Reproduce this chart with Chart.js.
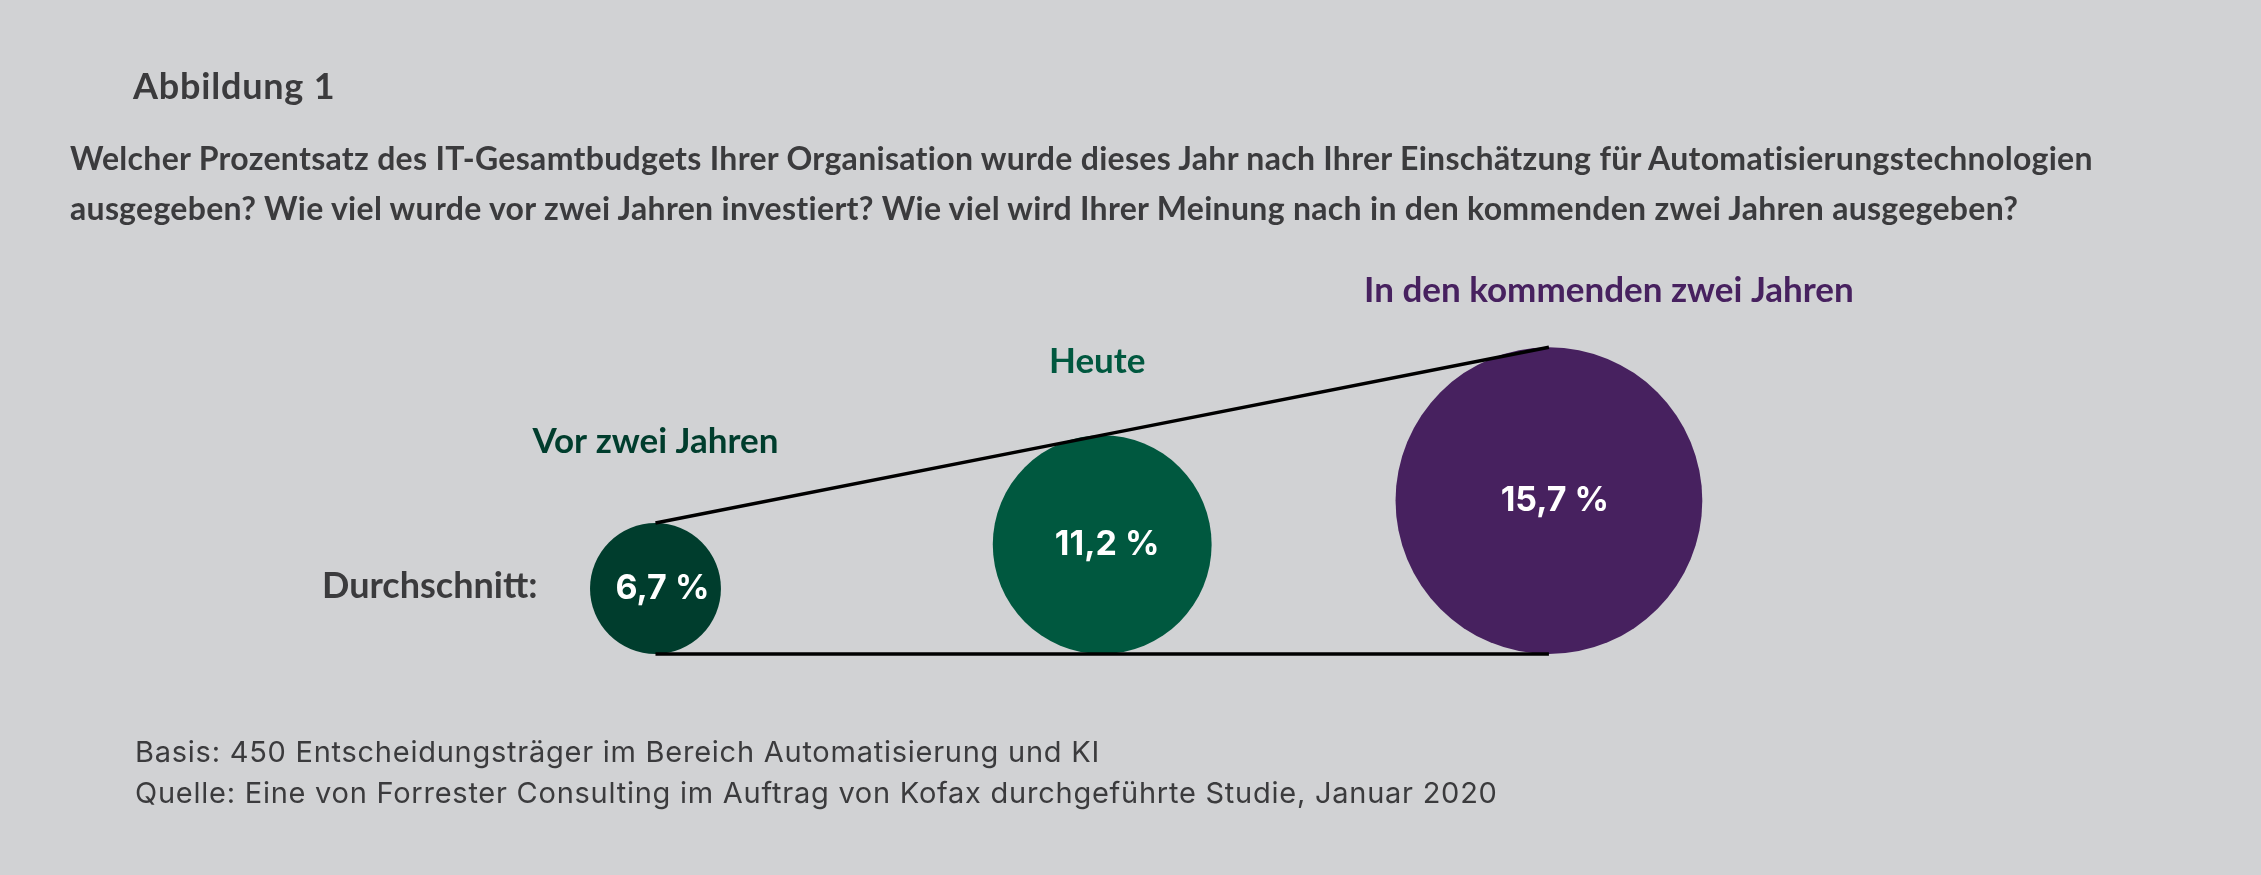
<!DOCTYPE html>
<html lang="de">
<head>
<meta charset="utf-8">
<title>Abbildung 1</title>
<script src="https://cdn.jsdelivr.net/npm/chart.js@4.4.1/dist/chart.umd.min.js"></script>
<style>
  html, body { margin: 0; padding: 0; background: #d1d2d4; }
  body { width: 2261px; height: 875px; position: relative; overflow: hidden; font-family: Lato, "Noto Sans", sans-serif; color: #3b3b3d; }
  #wrap { position: absolute; left: 0; top: 0; width: 2261px; height: 875px; }
  .txt { position: absolute; white-space: nowrap; }
  #heading { left: 133px; top: 64px; font-size: 36px; line-height: 42px; font-weight: 700; letter-spacing: 0.8px; }
  #question { left: 70px; top: 133px; font-size: 32px; line-height: 50px; font-weight: 700; letter-spacing: 0.3px; }
  #avg { left: 322px; top: 563px; font-size: 36px; line-height: 42px; font-weight: 700; }
  #notes { left: 135px; top: 731px; font-family: Inter, Lato, sans-serif; font-size: 29px; line-height: 41px; font-weight: 400; letter-spacing: 0.75px; }
</style>
</head>
<body>
<div id="wrap"><canvas id="budgetChart"></canvas></div>
<div class="txt" id="heading">Abbildung 1</div>
<div class="txt" id="question">Welcher Prozentsatz des IT-Gesamtbudgets Ihrer Organisation wurde dieses Jahr nach Ihrer Einschätzung für Automatisierungstechnologien<br>ausgegeben? Wie viel wurde vor zwei Jahren investiert? Wie viel wird Ihrer Meinung nach in den kommenden zwei Jahren ausgegeben?</div>
<div class="txt" id="avg">Durchschnitt:</div>
<div class="txt" id="notes">Basis: 450 Entscheidungsträger im Bereich Automatisierung und KI<br>Quelle: Eine von Forrester Consulting im Auftrag von Kofax durchgeführte Studie, Januar 2020</div>
<script>
// data
const periods = ['Vor zwei Jahren', 'Heute', 'In den kommenden zwei Jahren'];
const avgShare = [6.7, 11.2, 15.7];
const periodColors = ['#003d2d', '#00583f', '#47215f'];

const fmt = v => v.toLocaleString('de-DE') + ' %';

// circle radius = value in y units, so every bubble sits on y = 0
const bubblePoints = () => avgShare.map((v, i) => ({ x: i, y: v }));
const topLine = avgShare.map((v, i) => ({ x: i, y: 2 * v }));
const baseLine = avgShare.map((v, i) => ({ x: i, y: 0 }));

const radiusFor = (chart, v) => {
  const y = chart.scales.y;
  if (!y || v === undefined) return 0;
  const r = y.getPixelForValue(0) - y.getPixelForValue(v);
  return isFinite(r) && r > 0 ? r : 0;
};

const labelPlugin = {
  id: 'bubbleLabels',
  afterDatasetsDraw(chart, args, opts) {
    const { ctx, scales } = chart;
    ctx.save();
    ctx.textAlign = 'center';
    avgShare.forEach((v, i) => {
      const cx = scales.x.getPixelForValue(i);
      const cy = scales.y.getPixelForValue(v);
      const r = radiusFor(chart, v);
      ctx.fillStyle = '#ffffff';
      ctx.font = '700 34px Inter, Lato, sans-serif';
      ctx.textBaseline = 'middle';
      ctx.fillText(fmt(v), cx + opts.valueShift[i], cy);

      ctx.fillStyle = periodColors[i];
      ctx.font = '700 35px Lato, sans-serif';
      ctx.textBaseline = 'alphabetic';
      ctx.fillText(periods[i], cx + opts.nameShift[i], cy - r - opts.nameGap[i]);
    });
    ctx.restore();
  }
};

const chart = new Chart(document.getElementById('budgetChart').getContext('2d'), {
  type: 'bubble',
  data: {
    datasets: [
      {
        type: 'line',
        data: topLine,
        borderColor: '#000000',
        borderWidth: 3.5,
        pointRadius: 0,
        order: 0,
      },
      {
        type: 'line',
        data: baseLine,
        borderColor: '#000000',
        borderWidth: 3.5,
        pointRadius: 0,
        order: 0,
      },
      {
        type: 'bubble',
        data: bubblePoints(),
        backgroundColor: periodColors,
        borderWidth: 0,
        hoverRadius: 0,
        order: 1,
      },
    ],
  },
  options: {
    responsive: true,
    maintainAspectRatio: false,
    animation: false,
    events: [],
    clip: false,
    layout: { padding: 0, autoPadding: false },
    plugins: {
      legend: { display: false },
      tooltip: { enabled: false },
      bubbleLabels: {
        valueShift: [7, 5, 6],
        nameShift: [0, -5, 60],
        nameGap: [70, 62, 45],
      },
    },
    scales: {
      x: { type: 'linear', display: false, min: -1.4673, max: 3.594 },
      y: { type: 'linear', display: false, min: -22.62, max: 66.94 },
    },
  },
  plugins: [labelPlugin],
});

// bubble r is in pixels: take it from the laid-out y scale, then redraw
chart.data.datasets[2].data = bubblePoints().map(p => ({ ...p, r: radiusFor(chart, p.y) }));
chart.update();
</script>
</body>
</html>
